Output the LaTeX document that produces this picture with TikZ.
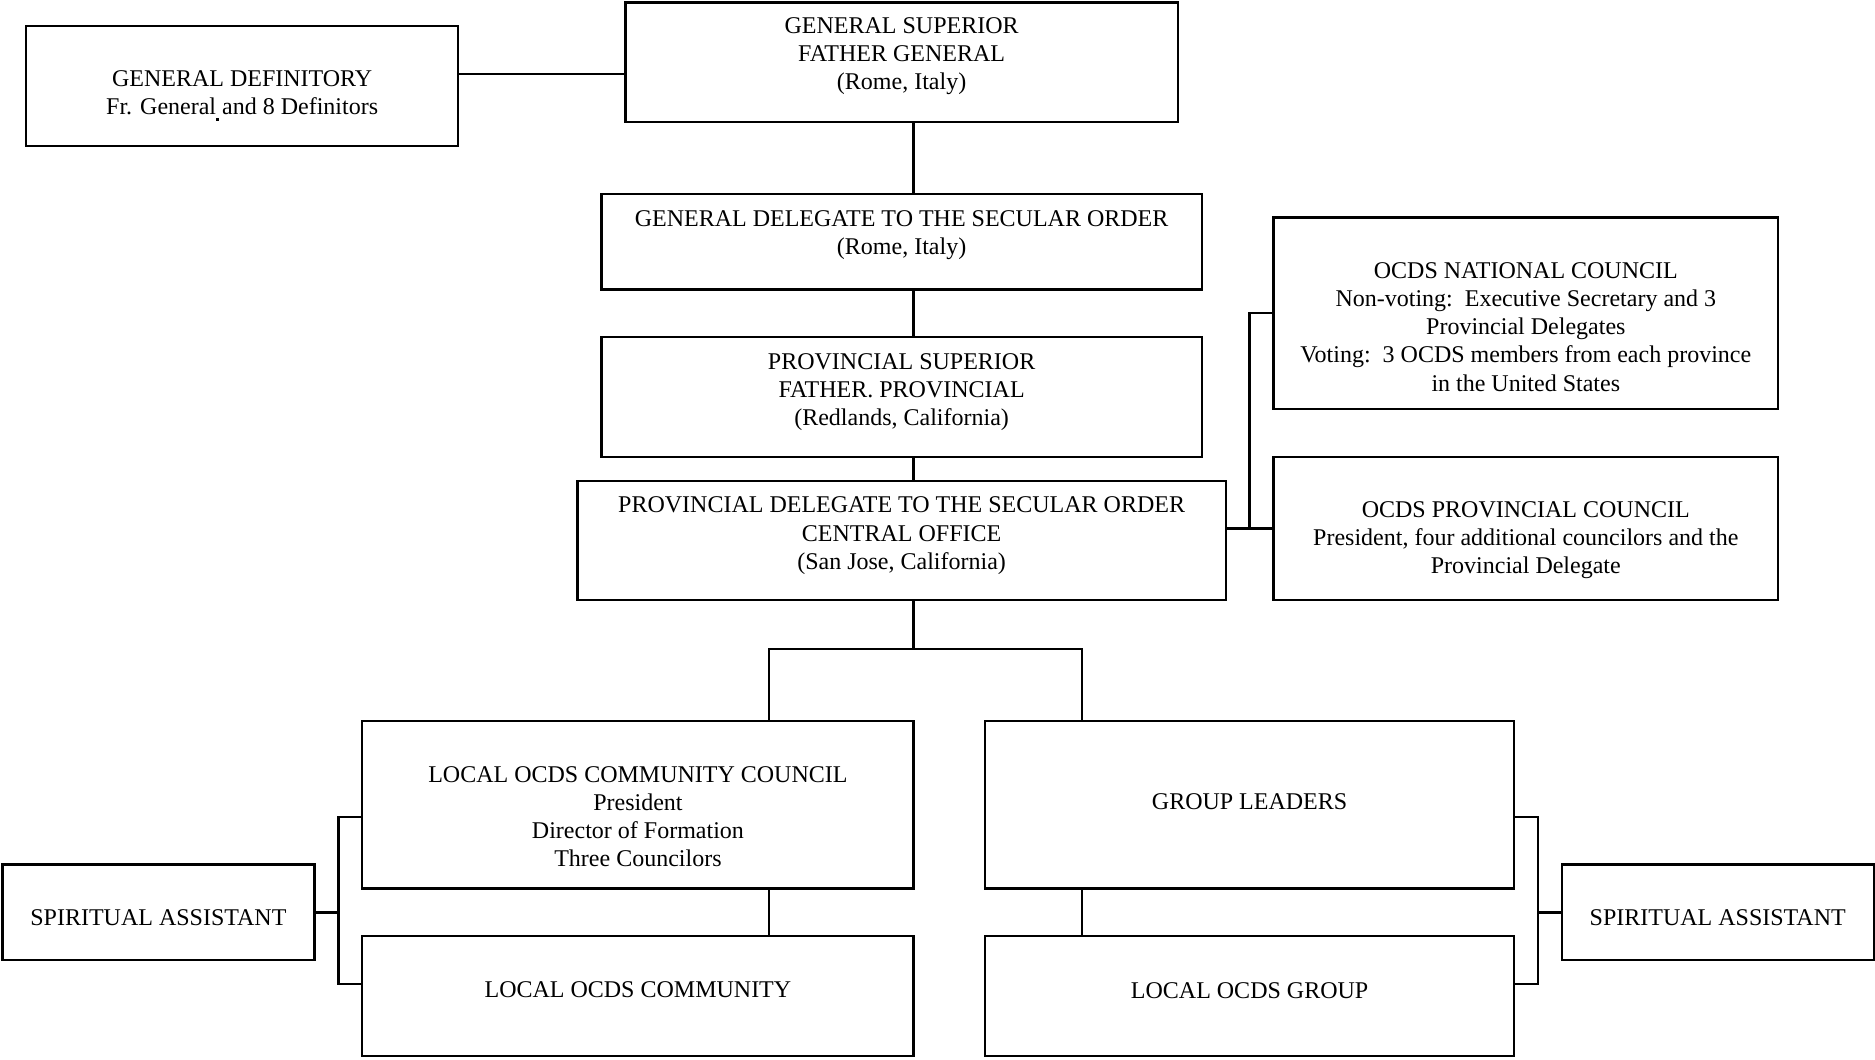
\documentclass[tikz,border=0pt]{standalone}
\usepackage{fontspec}
\setmainfont{Liberation Serif}
\newcommand\orgbox[7]{%
  \node[orgbox] (#1) at ({(#2+#4)/2},{(#3+#5)/2})
  {\parbox[c][\dimexpr0.5979pt*(#5-#3)\relax][t]{\dimexpr0.5979pt*(#4-#2)\relax}{%
   \centering\vspace*{\dimexpr0.5979pt*(#6+7)-9.835pt\relax}\strut #7\par}};}
\begin{document}
\begin{tikzpicture}[x=0.5979pt,y=-0.5979pt,
  orgbox/.style={draw,line width=1.15pt,inner sep=0pt,outer sep=0pt,
    font=\fontsize{12}{14.05}\selectfont},
  conn/.style={line width=1.15pt}]
\useasboundingbox (0,0) rectangle (1568,886);
\orgbox{gdef}{22}{22}{383}{122}{43}{GENERAL DEFINITORY\\ Fr. General and 8 Definitors}
\orgbox{gs}{523}{2}{985}{102}{19}{GENERAL SUPERIOR\\ FATHER GENERAL\\ (Rome, Italy)}
\orgbox{gd}{503}{162}{1005}{242}{20}{GENERAL DELEGATE TO THE SECULAR ORDER\\ (Rome, Italy)}
\orgbox{ps}{503}{282}{1005}{382}{20}{PROVINCIAL SUPERIOR\\ FATHER. PROVINCIAL\\ (Redlands, California)}
\orgbox{pd}{483}{402}{1025}{502}{20}{PROVINCIAL DELEGATE TO THE SECULAR ORDER\\ CENTRAL OFFICE\\ (San Jose, California)}
\orgbox{nc}{1065}{182}{1487}{342}{44}{OCDS NATIONAL COUNCIL\\ Non-voting:\ \ Executive Secretary and 3\\ Provincial Delegates\\ Voting:\ \ 3 OCDS members from each province\\ in the United States}
\orgbox{pc}{1065}{382}{1487}{502}{44}{OCDS PROVINCIAL COUNCIL\\ President, four additional councilors and the\\ Provincial Delegate}
\orgbox{lcc}{303}{603}{764}{743}{44}{LOCAL OCDS COMMUNITY COUNCIL\\ President\\ Director of Formation\\ Three Councilors}
\orgbox{gl}{824}{603}{1266}{743}{67}{GROUP LEADERS}
\orgbox{sal}{2}{723}{263}{803}{44}{SPIRITUAL ASSISTANT}
\orgbox{lc}{303}{783}{764}{883}{44}{LOCAL OCDS COMMUNITY}
\orgbox{lg}{824}{783}{1266}{883}{45}{LOCAL OCDS GROUP}
\orgbox{sar}{1306}{723}{1567}{803}{44}{SPIRITUAL ASSISTANT}
\fill (181,99) rectangle (183,101);
% reference coordinates for connector columns and rows
\coordinate (xmain) at (764,0);
\coordinate (xleft) at (643,0);
\coordinate (xright) at (905,0);
\coordinate (ydef) at (0,62);
\coordinate (ybranch) at (0,543);
% connectors
\draw[conn] (gdef.east |- ydef) -- (gs.west |- ydef);
\draw[conn] (gs.south -| xmain) -- (gd.north -| xmain);
\draw[conn] (gd.south -| xmain) -- (ps.north -| xmain);
\draw[conn] (ps.south -| xmain) -- (pd.north -| xmain);
\draw[conn] (pd.east |- pc.west) -- (pc.west);
\draw[conn] (nc.west) -- ++(-20,0) |- (pc.west);
\draw[conn] (pd.south -| xmain) -- (xmain |- ybranch);
\draw[conn] (lcc.north -| xleft) -- (xleft |- ybranch) -- (xright |- ybranch) -- (gl.north -| xright);
\draw[conn] (lcc.south -| xleft) -- (lc.north -| xleft);
\draw[conn] (gl.south -| xright) -- (lg.north -| xright);
\draw[conn] ([yshift=-5.98pt]lcc.west) -- ++(-20,0) |- ([yshift=5.98pt]lc.west);
\draw[conn] (sal.east) -- ++(20,0);
\draw[conn] ([yshift=-5.98pt]gl.east) -- ++(20,0) |- ([yshift=5.98pt]lg.east);
\draw[conn] (sar.west) -- ++(-20,0);
\end{tikzpicture}
\end{document}
